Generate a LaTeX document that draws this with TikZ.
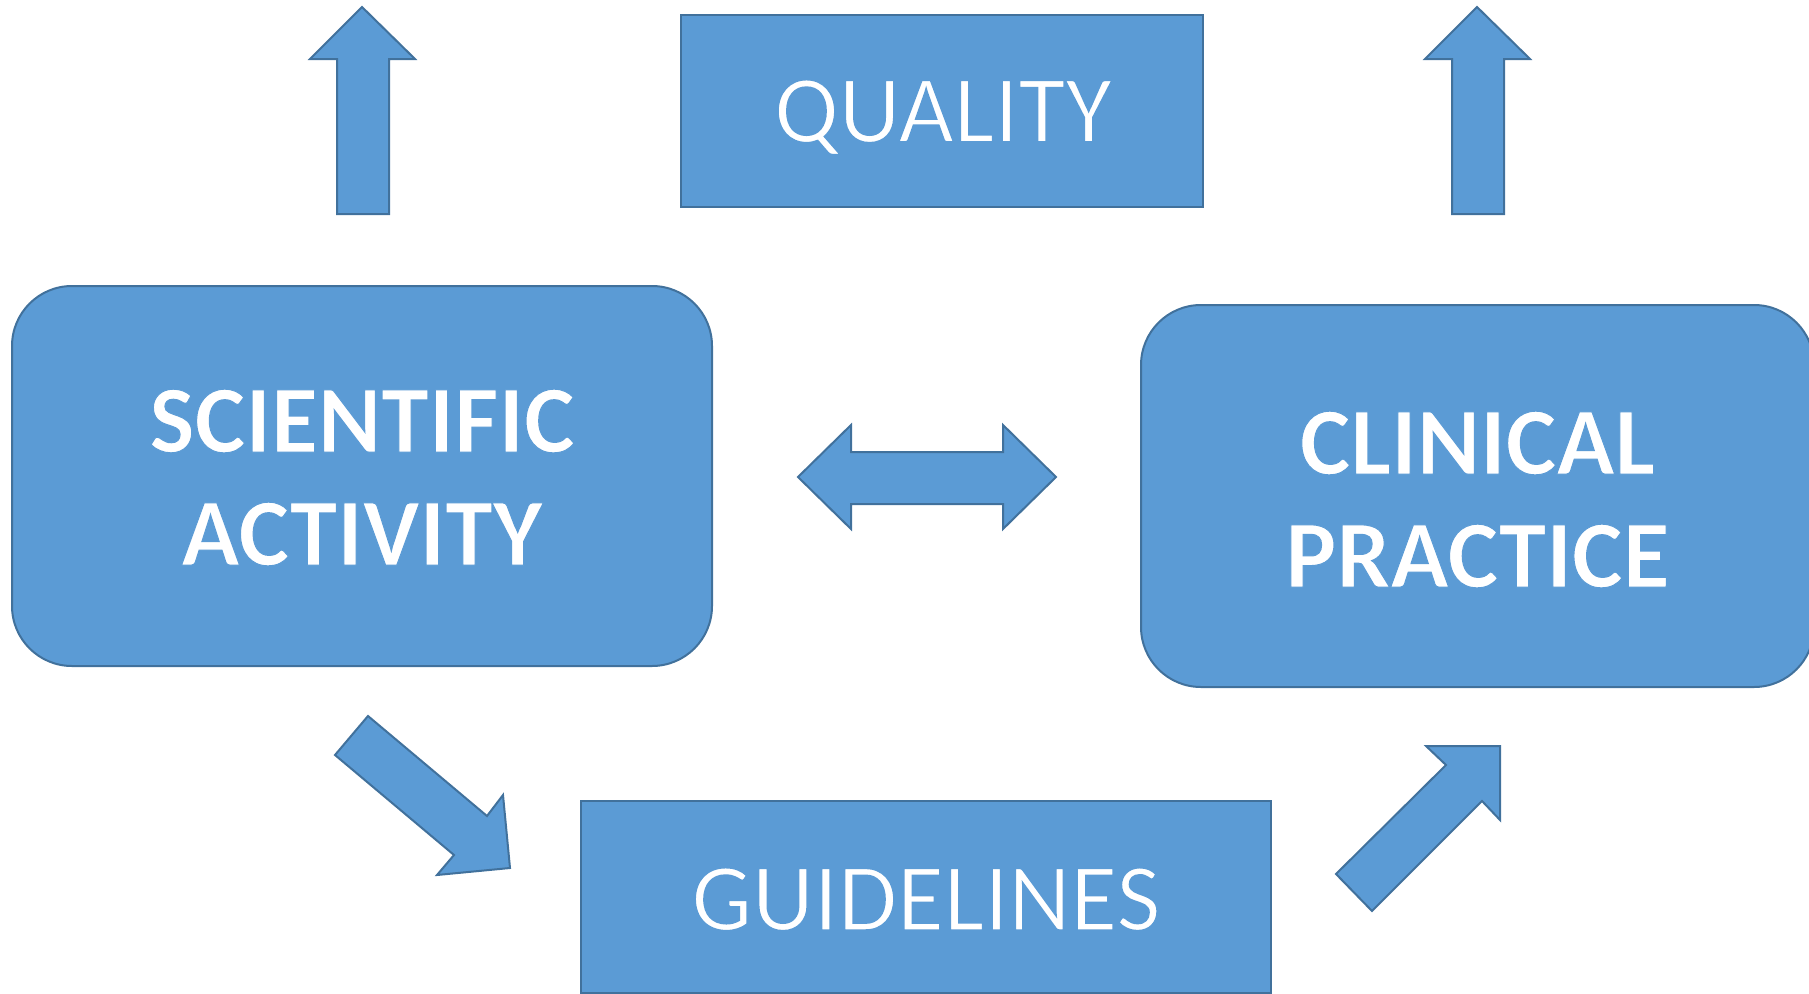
\documentclass[tikz,border=0pt]{standalone}
\usepackage{fontspec}
\setmainfont{Carlito}
\definecolor{boxfill}{HTML}{5B9BD5}
\definecolor{boxline}{HTML}{41719C}
\newcommand\thinglyphs[2]{\special{pdf:literal direct 2 Tr #1 w 0.357 0.608 0.835 RG}#2\special{pdf:literal direct 0 Tr}}
\begin{document}
\begin{tikzpicture}[x=1pt,y=-1pt,
  blk/.style={fill=boxfill, draw=boxline, line width=2pt, line join=miter},
  box/.style={blk, rectangle, inner sep=0pt},
  roundbox/.style={box, rounded corners=60pt},
  lbl/.style={inner sep=0pt, text=white, align=center, font=\fontsize{96}{113}\selectfont},
  boldlbl/.style={lbl, font=\bfseries\fontsize{96}{113}\selectfont}
]
\useasboundingbox (0,0) rectangle (1809,993);

% boxes
\node[box, minimum width=522pt, minimum height=192pt] (quality) at (942,111) {};
\node[roundbox, minimum width=700pt, minimum height=380pt] (sci) at (362,476) {};
\node[roundbox, minimum width=673pt, minimum height=382pt] (clin) at (1477.5,496) {};
\node[box, minimum width=690pt, minimum height=192pt] (guide) at (926,897) {};

% texts
\node[lbl, anchor=base] (qualitytext) at (943,142) {\thinglyphs{1.5}{QUALITY}};
\node[boldlbl] (scitext) at (362,477.5) {\thinglyphs{1}{SCIENTIFIC}\\\thinglyphs{1}{ACTIVITY}};
\node[boldlbl] (clintext) at (1477.5,499.5) {\thinglyphs{1}{CLINICAL}\\\thinglyphs{1}{PRACTICE}};
\node[lbl, anchor=base] (guidetext) at (926,930) {\thinglyphs{1.5}{GUIDELINES}};

% up arrows
\draw[blk] (337,214) -- (337,59) -- (310,59) -- (362,7) -- (415,59) -- (389,59) -- (389,214) -- cycle;
\draw[blk] (1452,214) -- (1452,59) -- (1425,59) -- (1477,7) -- (1530,59) -- (1504,59) -- (1504,214) -- cycle;

% double arrow
\draw[blk] (798,477) -- (851,425) -- (851,452) -- (1003,452) -- (1003,425) -- (1056,477)
  -- (1003,529) -- (1003,504) -- (851,504) -- (851,529) -- cycle;

% diagonal down-right
\draw[blk] (368,716) -- (487,816) -- (503,795) -- (510,868) -- (437,875) -- (454,855) -- (335,755) -- cycle;

% diagonal up-right
\draw[blk] (1336,874) -- (1446,765) -- (1426,746) -- (1500,746) -- (1500,820) -- (1482,801) -- (1372,911) -- cycle;
\end{tikzpicture}
\end{document}
